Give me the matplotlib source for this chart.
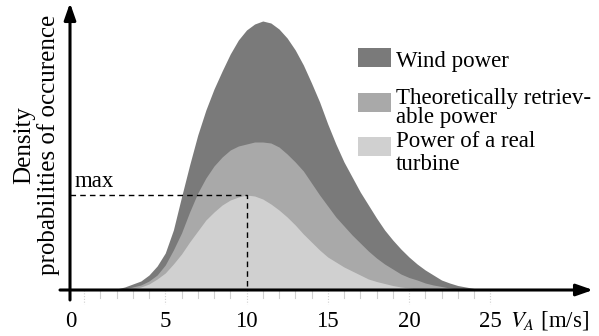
import matplotlib.pyplot as plt
from matplotlib.patches import Rectangle

plt.rcParams["font.family"] = ["Liberation Serif", "DejaVu Serif"]

# wind speed V_A [m/s]
speed = [0, 0.5, 1, 1.5, 2, 2.5, 3, 3.5, 4, 4.5, 5, 5.5, 6, 6.5, 7, 7.5, 8, 8.5,
         9, 9.5, 10, 10.5, 11, 11.5, 12, 12.5, 13, 13.5, 14, 14.5, 15, 15.5, 16,
         16.5, 17, 17.5, 18, 18.5, 19, 19.5, 20, 20.5, 21, 21.5, 22, 22.5, 23,
         23.5, 24, 24.5, 25]

# density (relative units)
wind_power = [0, 0, 0, 0.5, 1, 3, 6, 9, 15, 24, 37, 60, 93, 125, 155, 180, 201,
              219, 236, 250, 260, 266, 269, 267, 261, 252, 240, 225, 207, 188,
              166, 146, 128, 113, 98, 85, 72, 60, 50, 41, 33, 26, 20, 15, 10, 7,
              4.5, 3, 1.5, 0.5, 0]
theoretical = [0, 0, 0, 0, 0, 1, 3, 5, 9, 15, 25, 40, 57, 78, 97, 112, 124, 133,
               140, 144, 146, 148, 148, 147, 143, 136, 128, 119, 107, 95, 84, 73,
               64, 55, 47, 39, 32, 26, 21, 16, 12.5, 10, 7, 5, 3.5, 2, 1, 0.5, 0,
               0, 0]
real_turbine = [0, 0, 0, 0, 0, 0, 1, 3, 6, 11, 17, 26, 36, 48, 59, 70, 78, 85,
                90, 93, 95, 94, 91, 86, 80, 73, 65, 56, 48, 40, 33, 28, 23, 19,
                15, 11, 8.5, 6.5, 4.5, 3, 2, 1, 0.5, 0, 0, 0, 0, 0, 0, 0, 0]

tick_values = [0, 5, 10, 15, 20, 25]
max_speed = 10
max_density = 95

colors = ["#7a7a7a", "#a9a9a9", "#d0d0d0"]

W, H = 599, 336
fig = plt.figure(figsize=(W / 100, H / 100), dpi=100)

# axes mapped so 1 m/s = 16.25 px, origin at pixel (84, 290)
px = 16.25
ax = fig.add_axes([60 / W, 0, 1 - 60 / W, 1])
ax.set_xlim((60 - 84) / px, (W - 84) / px)
ax.set_ylim(-(H - 290), 290)
ax.axis("off")

for series, c in zip([wind_power, theoretical, real_turbine], colors):
    ax.fill_between(speed, 0, series, color=c, lw=0)

# dashed marker of the real turbine maximum
y_axis_x = (70 - 84) / px
ax.plot([y_axis_x, max_speed, max_speed], [max_density, max_density, 0],
        color="black", lw=1.0, ls=(0, (4, 3)))
ax.text(y_axis_x + 5 / px, max_density + 8, "max", fontsize=16.5,
        ha="left", va="baseline")

# minor ticks under the axis
for v in range(0, 26):
    ax.plot([v, v], [0, -8 if v % 5 else -14], color="#d0d0d0", lw=0.8,
            ls="-" if v % 5 else (0, (1, 1.5)))

# axes with arrows
ax.annotate("", xy=((593 - 84) / px, 0), xytext=((60 - 84) / px, 0),
            arrowprops=dict(arrowstyle="-|>,head_length=1.0,head_width=0.35",
                            color="black", lw=2.2, shrinkA=0, shrinkB=0))
ax.annotate("", xy=(y_axis_x, 287), xytext=(y_axis_x, -10),
            arrowprops=dict(arrowstyle="-|>,head_length=1.0,head_width=0.35",
                            color="black", lw=2.2, shrinkA=0, shrinkB=0))

# tick labels ("0" sits under the vertical axis)
for v in tick_values:
    xpos = y_axis_x + 0.05 if v == 0 else v
    ax.text(xpos, -37, str(v), fontsize=16.5, ha="center", va="baseline")
ax.text((510 - 84) / px, -37, r"$V_A$ [m/s]", fontsize=16.5, ha="left",
        va="baseline", math_fontfamily="stix")

fig.text(37 / W, 1 - 145 / H, "Density\nprobabilities of occurence",
         rotation=90, fontsize=18, ha="center", va="center",
         multialignment="center", linespacing=1.1)

# legend drawn by hand
patch_tops = [48, 93, 137]
line_rows = [[(67, "Wind power")],
             [(104, "Theoretically retriev-"), (123, "able power")],
             [(147, "Power of a real"), (170, "turbine")]]
for top, rows, c in zip(patch_tops, line_rows, colors):
    fig.add_artist(Rectangle((358 / W, 1 - (top + 19) / H), 33 / W, 19 / H,
                             transform=fig.transFigure, color=c, lw=0))
    for base, txt in rows:
        fig.text(396 / W, 1 - base / H, txt, fontsize=16.5, ha="left",
                 va="baseline")

fig.savefig("out.png", dpi=100)
